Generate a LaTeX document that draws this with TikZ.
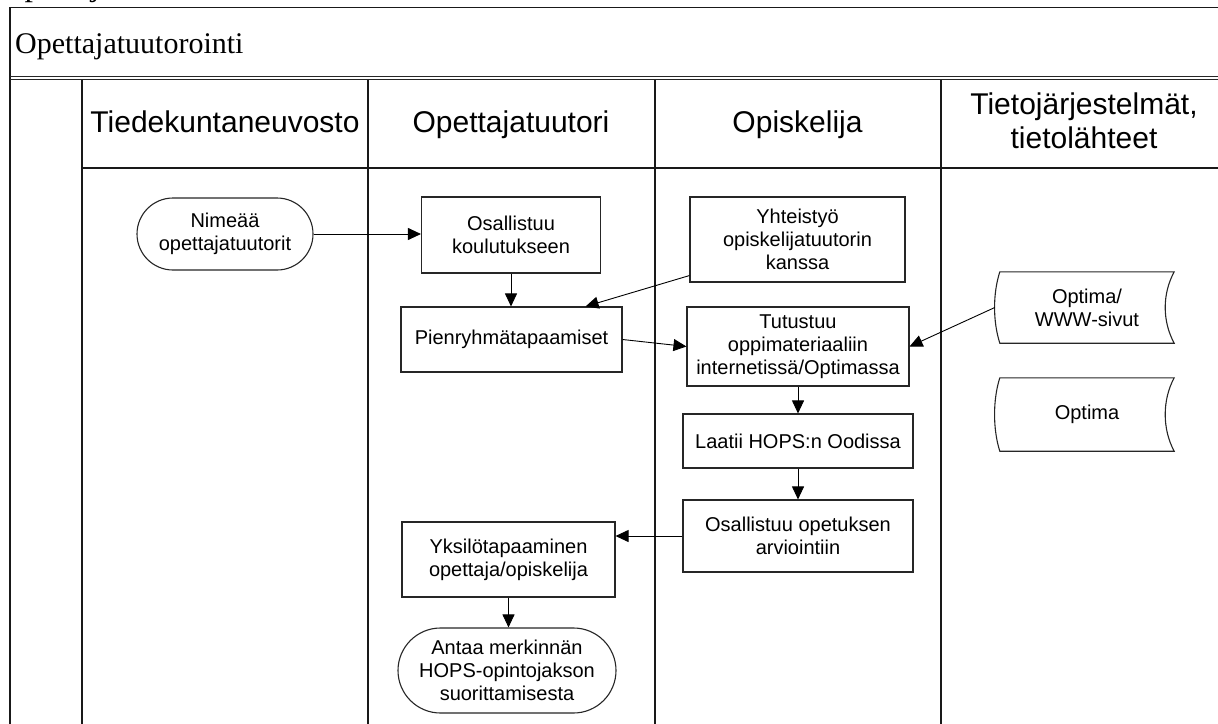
\documentclass[tikz,border=0pt]{standalone}
\usepackage{fontspec}
\setmainfont{Liberation Serif}
\setsansfont{Liberation Sans}
\usetikzlibrary{arrows.meta,shapes.misc,calc}

\begin{document}
\begin{tikzpicture}[x=1pt,y=-1pt,
  frameline/.style={line width=1.4pt, draw=black!90},
  thinline/.style={line width=0.9pt, draw=black!85},
  lanehead/.style={font=\sffamily\fontsize{30}{34}\selectfont, inner sep=0pt, align=center},
  stepbox/.style={draw=black!85, line width=1.1pt, fill=white, inner sep=2pt, align=center,
                  font=\sffamily\fontsize{20}{23}\selectfont},
  termbox/.style={stepbox, rounded rectangle},
  storetext/.style={inner sep=0pt, align=center, font=\sffamily\fontsize{20}{23}\selectfont},
  storeline/.style={draw=black!85, line width=1.1pt},
  flow/.style={line width=0.9pt, draw=black, -{Triangle[length=13pt,width=12pt]}},
]
\useasboundingbox (0,0) rectangle (1218,723);
\begin{scope}
\clip (0,0) rectangle (1218,723);

% running page heading, mostly above the page edge
\node[font=\fontsize{34}{38}\selectfont, anchor=base west, inner sep=0pt] (pagehead) at (0,-4.5) {Opettajatuutorointi};

% pool frame and title row
\draw[frameline] (10,730) -- (10,7.5) -- (1230,7.5);
\draw[thinline] (10,76.5) -- (1230,76.5);
\draw[thinline] (10,79.5) -- (1230,79.5);
\node[font=\fontsize{30}{34}\selectfont, anchor=base west, inner sep=0pt] (title) at (15,53) {Opettajatuutorointi};

% swimlanes
\foreach \x in {82,368,655,941} \draw[frameline] (\x,79.5) -- (\x,730);
\draw[frameline] (82,168) -- (1230,168);

\node[lanehead, anchor=base] (lane1) at (225,132) {Tiedekuntaneuvosto};
\node[lanehead, anchor=base] (lane2) at (511,132) {Opettajatuutori};
\node[lanehead, anchor=base] (lane3) at (797.5,132) {Opiskelija};
\node[lanehead] (lane4) at (1084,121) {Tietojärjestelmät,\\tietolähteet};

% process steps
\node[termbox, minimum width=180pt, minimum height=72pt] (nimea) at (225,234) {Nimeää\\opettajatuutorit};
\node[stepbox, minimum width=179pt, minimum height=76pt] (oskoul) at (511,235) {Osallistuu\\koulutukseen};
\node[stepbox, minimum width=221pt, minimum height=65pt] (pienr) at (511.5,339.5) {Pienryhmätapaamiset};
\node[stepbox, minimum width=215pt, minimum height=85pt] (yhteis) at (797.5,239.5) {Yhteistyö\\opiskelijatuutorin\\kanssa};
\node[stepbox, minimum width=222pt, minimum height=79pt] (tutust) at (798,346.5) {Tutustuu\\oppimateriaaliin\\internetissä/Optimassa};
\node[stepbox, minimum width=230pt, minimum height=54pt] (laatii) at (798,441) {Laatii HOPS:n Oodissa};
\node[stepbox, minimum width=230pt, minimum height=72pt] (osopet) at (798,536) {Osallistuu opetuksen\\arviointiin};
\node[stepbox, minimum width=213pt, minimum height=75pt] (yksilo) at (508.5,559.5) {Yksilötapaaminen\\opettaja/opiskelija};
\node[termbox, minimum width=222pt, minimum height=85pt] (antaa) at (507,670.5) {Antaa merkinnän\\HOPS-opintojakson\\suorittamisesta};

% stored data
\node[storetext, minimum width=174pt, minimum height=71pt] (optwww) at (1087,307.5) {Optima/\\WWW-sivut};
\node[storetext, minimum width=174pt, minimum height=73pt] (optima) at (1087,414.5) {Optima};
\foreach \n in {optwww,optima}
  \draw[storeline] (\n.north west) -- (\n.north east)
    .. controls ([xshift=-12pt,yshift=-22pt]\n.north east) and ([xshift=-12pt,yshift=22pt]\n.south east) .. (\n.south east)
    -- (\n.south west)
    .. controls ([xshift=-7pt,yshift=22pt]\n.south west) and ([xshift=-7pt,yshift=-22pt]\n.north west) .. cycle;

% flows
\draw[flow] (nimea.east) -- (nimea.east -| oskoul.west);
\draw[flow] (oskoul.south) -- (oskoul.south |- pienr.north);
\draw[flow] ([yshift=7pt]yhteis.south west) -- ([xshift=-37pt]pienr.north east);
\draw[flow] (pienr.east) -- (tutust.west);
\draw[flow] ([xshift=-5pt]optwww.west) -- (tutust.east);
\draw[flow] (tutust.south) -- (laatii.north);
\draw[flow] (laatii.south) -- (osopet.north);
\draw[flow] (osopet.west) -- (osopet.west -| yksilo.east);
\draw[flow] (yksilo.south) -- (yksilo.south |- antaa.north);
\end{scope}
\end{tikzpicture}
\end{document}
